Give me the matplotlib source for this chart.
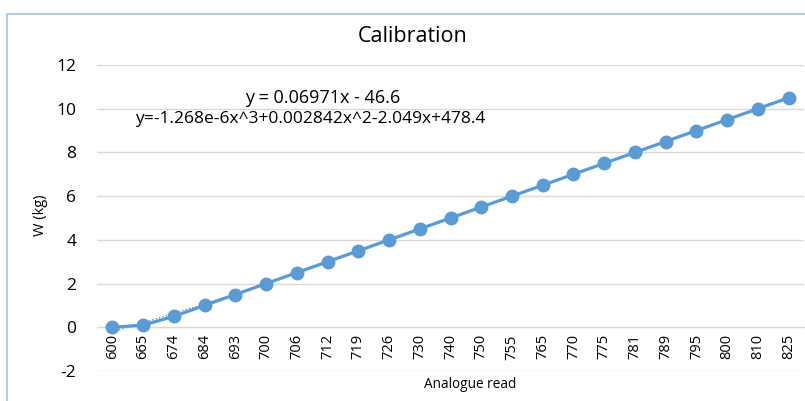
import numpy as np
import matplotlib
matplotlib.use("Agg")
import matplotlib.pyplot as plt
from matplotlib.patches import Rectangle

categories = ["600", "665", "674", "684", "693", "700", "706", "712", "719", "726",
              "730", "740", "750", "755", "765", "770", "775", "781", "789", "795",
              "800", "810", "825"]
weights = [0, 0.1, 0.5, 1, 1.5, 2, 2.5, 3, 3.5, 4, 4.5, 5, 5.5, 6, 6.5, 7, 7.5,
           8, 8.5, 9, 9.5, 10, 10.5]
yticks = [-2, 0, 2, 4, 6, 8, 10, 12]
title = "Calibration"
xlabel = "Analogue read"
ylabel = "W (kg)"
eq_linear = "y = 0.06971x - 46.6"
eq_cubic = "y=-1.268e-6x^3+0.002842x^2-2.049x+478.4"

plt.rcParams['font.family'] = ['Open Sans', 'DejaVu Sans']
blue = "#5B9BD5"
W, H = 805, 401
fig = plt.figure(figsize=(W / 100, H / 100), dpi=100)

# outer chart border
fig.patches.append(Rectangle((7 / W, -0.2), 1.5, 1.2 - 14 / H, transform=fig.transFigure,
                             fill=False, edgecolor="#9DC3E6", lw=1.2))

ax = fig.add_axes([97 / W, 1 - 371 / H, (804 - 97) / W, (371 - 65) / H])
x = np.arange(len(categories))

# cubic trendline (dotted), fitted over the category positions
coef = np.polyfit(x, weights, 3)
xf = np.linspace(0, len(categories) - 1, 400)
ax.plot(xf, np.polyval(coef, xf), linestyle=(0, (1, 1.5)), color=blue, lw=1.0, zorder=2)

ax.plot(x, weights, color=blue, lw=2.3, marker="o", markersize=9, zorder=3)

ax.set_xlim(-0.5, len(categories) - 0.5)
ax.set_ylim(-2, 12)
ax.set_yticks(yticks)
ax.set_yticklabels([str(v) for v in yticks])
ax.set_xticks(x)
ax.set_xticklabels(categories)
ax.grid(axis="y", color="#D9D9D9", lw=1)
ax.set_axisbelow(True)
for s in ["top", "right", "left"]:
    ax.spines[s].set_visible(False)
ax.spines["bottom"].set_position(("data", 0))
ax.spines["bottom"].set_color("#D9D9D9")
ax.tick_params(axis="both", length=0)
ax.tick_params(axis="y", pad=15, labelsize=12.5)
ax.tick_params(axis="x", pad=5, labelrotation=90, labelsize=10.5)

fig.text(413 / W, 1 - 37 / H, title, ha="center", va="center", fontsize=15.5)
fig.text(470 / W, 1 - 384 / H, xlabel, ha="center", va="center", fontsize=9.8)
fig.text(40 / W, 1 - 215 / H, ylabel, ha="center", va="center", rotation=90, fontsize=10.5)
fig.text(323 / W, 1 - 98 / H, eq_linear, ha="center", va="center", fontsize=13)
fig.text(135 / W, 1 - 119 / H, eq_cubic, ha="left", va="center", fontsize=12.5)

fig.savefig("out.png", dpi=100)
